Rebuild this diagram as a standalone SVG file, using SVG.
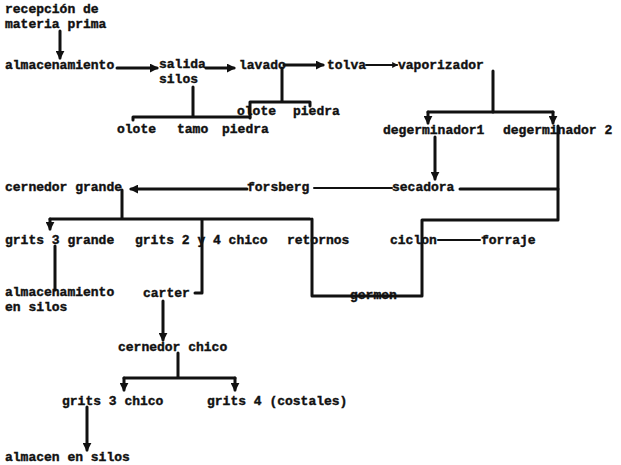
<svg xmlns="http://www.w3.org/2000/svg" width="621" height="465" viewBox="0 0 621 465">
<style>
text{font-family:"Liberation Mono","DejaVu Sans Mono",monospace;font-weight:bold;font-size:13px;fill:#111;stroke:#111;stroke-width:0.4}
.c{fill:none;stroke:#111;stroke-width:3;stroke-linejoin:round;stroke-linecap:round}
.t{stroke-width:2}
</style>
<defs>
<marker id="a" viewBox="0 0 10 10" refX="8" refY="5" markerWidth="3" markerHeight="3" orient="auto" markerUnits="strokeWidth">
<path d="M0,0 L10,5 L0,10 z" fill="#111"/>
</marker>
</defs>
<rect width="621" height="465" fill="#fff"/>
<g id="connectors">
<path class="c" d="M60,31 V58" marker-end="url(#a)"/>
<path class="c" d="M117,68 H157" marker-end="url(#a)"/>
<path class="c" d="M206,68 H234" marker-end="url(#a)"/>
<path class="c" d="M284,65 H323" marker-end="url(#a)"/>
<path class="c t" d="M366,65 H397" marker-end="url(#a)"/>
<path class="c" d="M282,68 V102 M250,118 V102 H310 V106"/>
<path class="c" d="M193,87 V117 M133,120 V117 H250"/>
<path class="c" d="M493,71 V112"/>
<path class="c" d="M428,112 H553"/>
<path class="c" d="M428,112 V123" marker-end="url(#a)"/>
<path class="c" d="M553,112 V123" marker-end="url(#a)"/>
<path class="c" d="M435,137 V179" marker-end="url(#a)"/>
<path class="c" d="M558,126 V220 H422 V296 H312 V219"/>
<path class="c" d="M460,189 H558"/>
<path class="c t" d="M392,188 H314"/>
<path class="c" d="M247,189 H131" marker-end="url(#a)"/>
<path class="c" d="M122,190 V219 M50,219 H310 M202,219 V293 H195"/>
<path class="c" d="M50,219 V229" marker-end="url(#a)"/>
<path class="c t" d="M438,240 H480"/>
<path class="c" d="M55,246 V290"/>
<path class="c" d="M163,301 V340" marker-end="url(#a)"/>
<path class="c" d="M178,353 V378 M124,378 H235"/>
<path class="c" d="M124,378 V390" marker-end="url(#a)"/>
<path class="c" d="M235,378 V390" marker-end="url(#a)"/>
<path class="c" d="M87,407 V450" marker-end="url(#a)"/>
</g>
<g id="n1"><text x="5" y="13">recepción de</text><text x="5" y="28">materia prima</text></g>
<g id="n2"><text x="5" y="69">almacenamiento</text></g>
<g id="n3"><text x="159" y="68">salida</text><text x="159" y="83">silos</text></g>
<g id="n4"><text x="239" y="69">lavado</text></g>
<g id="n5"><text x="327" y="69">tolva</text></g>
<g id="n6"><text x="398" y="69">vaporizador</text></g>
<g id="n7"><text x="237" y="115">olote</text><text x="293" y="115">piedra</text></g>
<g id="n8"><text x="117" y="133">olote</text><text x="177" y="133">tamo</text><text x="222" y="133">piedra</text></g>
<g id="n9"><text x="383" y="134">degerminador1</text></g>
<g id="n10"><text x="503" y="134">degerminador 2</text></g>
<g id="n11"><text x="5" y="191">cernedor grande</text></g>
<g id="n12"><text x="247" y="191">forsberg</text></g>
<g id="n13"><text x="392" y="191">secadora</text></g>
<g id="n14"><text x="5" y="244">grits 3 grande</text></g>
<g id="n15"><text x="135" y="244">grits 2 y 4 chico</text></g>
<g id="n16"><text x="287" y="244">retornos</text></g>
<g id="n17"><text x="390" y="244">ciclon</text></g>
<g id="n18"><text x="481" y="244">forraje</text></g>
<g id="n19"><text x="5" y="296">almacenamiento</text><text x="5" y="311">en silos</text></g>
<g id="n20"><text x="143" y="297">carter</text></g>
<g id="n21"><text x="350" y="299">germen</text></g>
<g id="n22"><text x="118" y="351">cernedor chico</text></g>
<g id="n23"><text x="62" y="405">grits 3 chico</text></g>
<g id="n24"><text x="207" y="405">grits 4 (costales)</text></g>
<g id="n25"><text x="5" y="461">almacen en silos</text></g>
</svg>
